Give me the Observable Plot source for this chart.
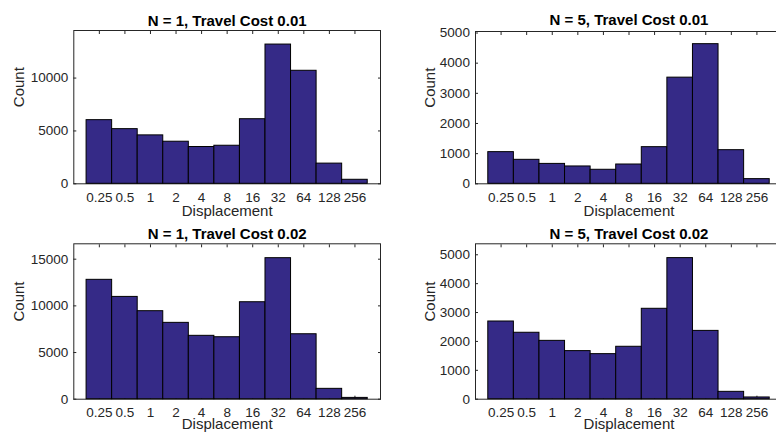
<!DOCTYPE html>
<html><head><meta charset="utf-8">
<script src="https://cdn.jsdelivr.net/npm/d3@7"></script>
<script src="https://cdn.jsdelivr.net/npm/@observablehq/plot@0.6"></script>
<style>
html,body{margin:0;padding:0;background:#fff;overflow:hidden;}
#chart{position:relative;width:776px;height:432px;overflow:hidden;background:#fff;}
#chart svg{position:absolute;overflow:visible;}
</style></head><body><div id="chart"></div>
<script>
// ---- data ----
const categories = ["0.25","0.5","1","2","4","8","16","32","64","128","256"];
const titles = ["N = 1, Travel Cost 0.01","N = 5, Travel Cost 0.01","N = 1, Travel Cost 0.02","N = 5, Travel Cost 0.02"];
const countsN1C001 = [6020,5170,4580,3980,3480,3600,6110,13170,10690,1910,380];
const countsN5C001 = [1050,795,660,575,465,640,1215,3520,4630,1115,155];
const countsN1C002 = [12790,10960,9430,8180,6790,6640,10390,15110,6960,1110,140];
const countsN5C002 = [2690,2300,2020,1665,1560,1815,3130,4885,2365,255,60];
const yTicksN1C001 = [0,5000,10000];
const yTicksN5C001 = [0,1000,2000,3000,4000,5000];
const yTicksN1C002 = [0,5000,10000,15000];
const yTicksN5C002 = [0,1000,2000,3000,4000,5000];
const yMax = [14500, 5050, 16650, 5380];
const xLabel = "Displacement";
const yLabel = "Count";

// ---- layout ----
const panels = [
  {counts: countsN1C001, ticks: yTicksN1C001, title: titles[0], ymax: yMax[0],
   left: 0, top: 0, width: 388, height: 216, mL: 73.3, mT: 30, mR: 8, mB: 32.7, titleDy: -5, xlabDy: 32.5, ylabDx: -50},
  {counts: countsN5C001, ticks: yTicksN5C001, title: titles[1], ymax: yMax[1],
   left: 388, top: 0, width: 400, height: 216, mL: 87, mT: 31, mR: 6, mB: 32.7, titleDy: -7, xlabDy: 32.5, ylabDx: -40.3},
  {counts: countsN1C002, ticks: yTicksN1C002, title: titles[2], ymax: yMax[2],
   left: 0, top: 216, width: 388, height: 216, mL: 73.3, mT: 27.3, mR: 8, mB: 33.3, titleDy: -5, xlabDy: 29.5, ylabDx: -50},
  {counts: countsN5C002, ticks: yTicksN5C002, title: titles[3], ymax: yMax[3],
   left: 388, top: 216, width: 400, height: 216, mL: 87, mT: 27.3, mR: 6, mB: 33.3, titleDy: -5, xlabDy: 29.5, ylabDx: -40.3}
];

const axisColor = "#262626";
const barFill = "#352a87";
const tickFont = 13.5;
const labelFont = 15;
const fontFamily = "'Liberation Sans', Arial, Helvetica, sans-serif";
const chart = document.getElementById("chart");

for (const p of panels) {
  const data = categories.map((c, i) => ({cat: c, count: p.counts[i]}));
  const blank = () => "";
  const svg = Plot.plot({
    width: p.width, height: p.height,
    marginLeft: p.mL, marginTop: p.mT, marginRight: p.mR, marginBottom: p.mB,
    style: {fontFamily, color: axisColor, background: "transparent", overflow: "visible"},
    x: {type: "band", domain: categories, paddingInner: 0, paddingOuter: 0.5, round: false, axis: null},
    y: {domain: [0, p.ymax], axis: null},
    marks: [
      Plot.frame({stroke: axisColor, strokeWidth: 1}),
      Plot.axisX({anchor: "bottom", tickSize: 3, dy: -3, tickFormat: blank, label: null, stroke: axisColor}),
      Plot.axisX({anchor: "top", tickSize: 3, dy: 3, tickFormat: blank, label: null, stroke: axisColor}),
      Plot.axisY({anchor: "left", ticks: p.ticks, tickSize: 3, dx: 3, tickFormat: blank, label: null, stroke: axisColor}),
      Plot.axisY({anchor: "right", ticks: p.ticks, tickSize: 3, dx: -3, tickFormat: blank, label: null, stroke: axisColor}),
      Plot.barY(data, {x: "cat", y: "count", fill: barFill, stroke: "black", strokeWidth: 1}),
      Plot.text(categories, {x: d => d, text: d => d, frameAnchor: "bottom", dy: 8.4, lineAnchor: "top", fontSize: tickFont, fontFamily, fill: axisColor}),
      Plot.text(p.ticks, {y: d => d, text: d => String(d), frameAnchor: "left", dx: -5.6, textAnchor: "end", fontSize: tickFont, fontFamily, fill: axisColor}),
      Plot.text([p.title], {text: d => d, frameAnchor: "top", dy: p.titleDy, lineAnchor: "bottom", fontWeight: "bold", fontSize: labelFont, fontFamily, fill: "black"}),
      Plot.text([xLabel], {text: d => d, frameAnchor: "bottom", dy: p.xlabDy, lineAnchor: "bottom", fontSize: labelFont, fontFamily, fill: axisColor}),
      Plot.text([yLabel], {text: d => d, frameAnchor: "left", dx: p.ylabDx, rotate: -90, lineAnchor: "bottom", fontSize: labelFont, fontFamily, fill: axisColor})
    ]
  });
  svg.style.left = p.left + "px";
  svg.style.top = p.top + "px";
  svg.style.maxWidth = "none";
  svg.style.overflow = "visible";
  chart.appendChild(svg);
}
</script></body></html>
